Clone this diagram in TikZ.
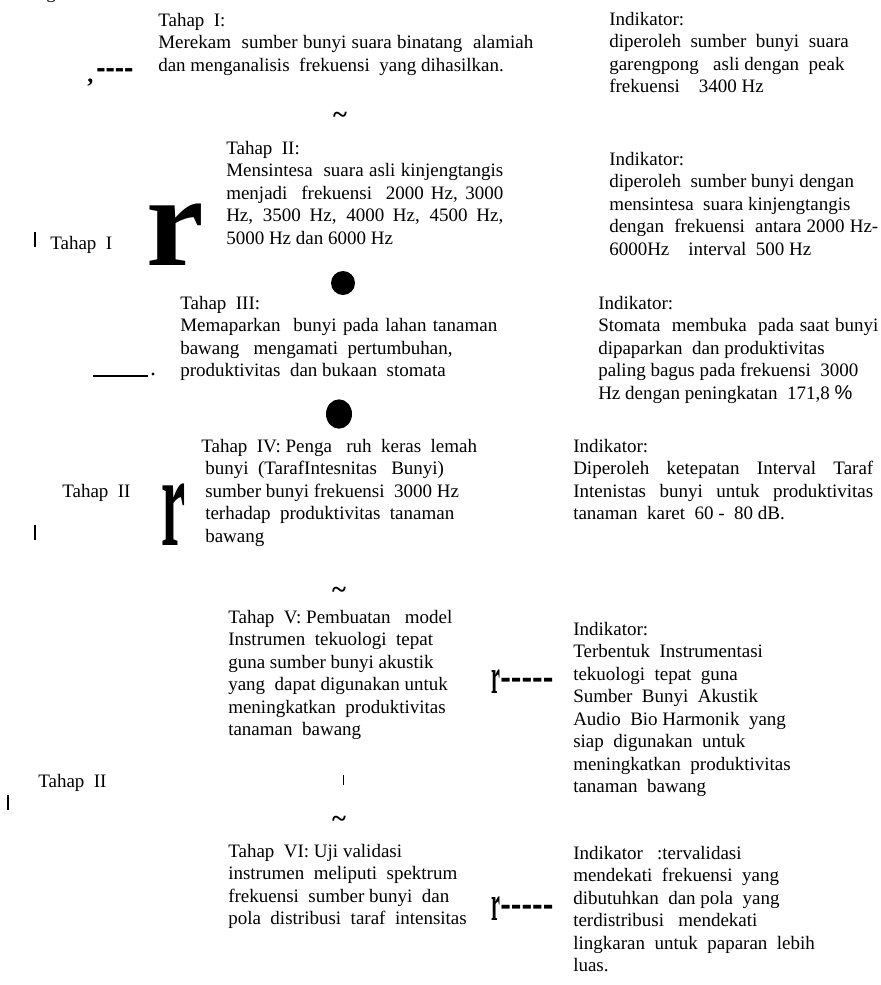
\documentclass[tikz,border=0pt]{standalone}
\usepackage{fontspec}
\setmainfont{Liberation Serif}
\newfontfamily\sansf{Liberation Sans}
\usetikzlibrary{shapes.geometric}
\newcommand\jl[2]{\makebox[#1][s]{#2}}
\begin{document}
\begin{tikzpicture}[x=0.75pt,y=-0.75pt,
 txt/.style={anchor=north west,inner sep=0pt,align=left,font=\fontsize{14.25pt}{16.875pt}\selectfont},
 lbl/.style={anchor=base west,inner sep=0pt,font=\fontsize{14.25pt}{16.875pt}\selectfont},
 bigr/.style={anchor=base west,inner sep=0pt,font=\fontsize{97.5pt}{97.5pt}\selectfont\bfseries},
 smr/.style={anchor=base west,inner sep=0pt,font=\fontsize{37.5pt}{37.5pt}\selectfont\bfseries},
 dsh/.style={anchor=west,inner sep=0pt,font=\sansf\bfseries\fontsize{24pt}{24pt}\selectfont},
 tld/.style={inner sep=0pt,font=\fontsize{20pt}{20pt}\selectfont\bfseries},
 blob/.style={ellipse,fill=black,inner sep=0pt},
 bar/.style={line width=0.9pt}
]
\fill[white] (0,0) rectangle (881,985);
\useasboundingbox (0,0) rectangle (881,985);

% stray glyph at top
\node[lbl] (g) at (46,-2) {g};

% ---- left column
\node[txt] (t1) at (158,13) {Tahap\ \ I:\\
\jl{281.25pt}{Merekam\ \ sumber bunyi suara binatang\ \ alamiah}\\
dan menganalisis\ \ frekuensi\ \ yang dihasilkan.};
\node[lbl,font=\fontsize{18pt}{18pt}\selectfont\bfseries] (c1) at (87,82) {,};
\node[dsh,font=\sansf\bfseries\fontsize{21pt}{21pt}\selectfont] (d1) at (96,73) {-{}-{}-{}-};
\node[tld] (w1) at (340,118) {\textasciitilde};

\node[txt] (t2) at (226,141) {Tahap\ \ II:\\
\jl{207.75pt}{Mensintesa\ \ suara asli kinjengtangis}\\
\jl{207.75pt}{menjadi\ \ frekuensi\ \ 2000 Hz, 3000}\\
\jl{207.75pt}{Hz, 3500 Hz, 4000 Hz, 4500 Hz,}\\
5000 Hz dan 6000 Hz};
\draw[bar] (35,232) -- (35,247);
\node[lbl] (l1) at (50,249) {Tahap\ \ I};
\node[bigr] (r1) at (146,265) {r};
\node[blob,minimum width=18pt,minimum height=18pt] (b1) at (343,283) {};

\node[txt] (t3) at (180,296) {Tahap\ \ III:\\
\jl{237.75pt}{Memaparkan\ \ bunyi pada lahan tanaman}\\
bawang\ \ \ mengamati\ \ pertumbuhan,\\
produktivitas\ \ dan bukaan\ \ stomata};
\draw[line width=1.2pt] (93,376) -- (148,376);
\node[circle,fill=black,inner sep=0pt,minimum size=2.5pt] (p3) at (153,374) {};
\node[blob,minimum width=19.5pt,minimum height=22pt] (b2) at (339,414) {};

\node[txt] (t4) at (205,439) {\hspace*{-3pt}Tahap\ \ IV: Penga\ \ \ ruh\ \ keras\ \ lemah\\
bunyi\ \ (TarafIntesnitas\ \ \ Bunyi)\\
sumber bunyi frekuensi\ \ 3000 Hz\\
terhadap\ \ produktivitas\ \ tanaman\\
bawang};
\node[lbl] (l2) at (62,497) {Tahap\ \ II};
\draw[bar] (35,525) -- (35,540);
\node[bigr] (r2) at (161,545) {\scalebox{0.42}[1]{r}};
\node[tld] (w2) at (339,593) {\textasciitilde};

\node[txt] (t5) at (228,610) {Tahap\ \ V: Pembuatan\ \ \ model\\
Instrumen\ \ tekuologi\ \ tepat\\
guna sumber bunyi akustik\\
yang\ \ dapat digunakan untuk\\
meningkatkan\ \ produktivitas\\
tanaman\ \ bawang};
\node[smr] (r5) at (491,693) {\scalebox{0.4}[1]{r}};
\node[dsh] (d5) at (500,683) {-{}-{}-{}-{}-};

\node[lbl] (l3) at (38,787) {Tahap\ \ II};
\draw[bar] (8,795) -- (8,810);
\draw[line width=0.6pt] (343,775) -- (343,785);
\node[tld] (w3) at (339,822) {\textasciitilde};

\node[txt] (t6) at (228,844) {Tahap\ \ VI: Uji validasi\\
instrumen\ \ meliputi\ \ spektrum\\
frekuensi\ \ sumber bunyi\ \ dan\\
pola\ \ distribusi\ \ taraf\ \ intensitas};
\node[smr] (r6) at (491,920) {\scalebox{0.4}[1]{r}};
\node[dsh] (d6) at (500,910) {-{}-{}-{}-{}-};

% ---- right column
\node[txt] (i1) at (609,12) {Indikator:\\
diperoleh\ \ sumber\ \ bunyi\ \ suara\\
garengpong\ \ \ asli dengan\ \ peak\\
frekuensi\ \ \ \ 3400 Hz};

\node[txt] (i2) at (609,152) {Indikator:\\
diperoleh\ \ sumber bunyi dengan\\
mensintesa\ \ suara kinjengtangis\\
\jl{201.75pt}{dengan\ \ frekuensi\ \ antara 2000 Hz-}\\
6000Hz\ \ \ \ interval\ \ 500 Hz};

\node[txt] (i3) at (598,296) {Indikator:\\
\jl{210pt}{Stomata\ \ membuka\ \ pada saat bunyi}\\
dipaparkan\ \ dan produktivitas\\
paling bagus pada frekuensi\ \ 3000\\
Hz dengan peningkatan\ \ 171,8 {\sansf\fontsize{15pt}{15pt}\selectfont\%}};

\node[txt] (i4) at (573,439) {Indikator:\\
\jl{225pt}{Diperoleh\ \ ketepatan\ \ Interval\ \ Taraf}\\
\jl{225pt}{Intenistas\ \ bunyi\ \ untuk\ \ produktivitas}\\
tanaman\ \ karet\ \ 60 -\ \ 80 dB.};

\node[txt] (i5) at (573,622) {Indikator:\\
Terbentuk\ \ Instrumentasi\\
tekuologi\ \ tepat\ \ guna\\
Sumber\ \ Bunyi\ \ Akustik\\
Audio\ \ Bio Harmonik\ \ yang\\
siap\ \ digunakan\ \ untuk\\
meningkatkan\ \ produktivitas\\
tanaman\ \ bawang};

\node[txt] (i6) at (573,846) {Indikator\ \ \ :tervalidasi\\
mendekati\ \ frekuensi\ \ yang\\
dibutuhkan\ \ dan pola\ \ yang\\
terdistribusi\ \ \ mendekati\\
lingkaran\ \ untuk\ \ paparan\ \ lebih\\
luas.};
\end{tikzpicture}
\end{document}
